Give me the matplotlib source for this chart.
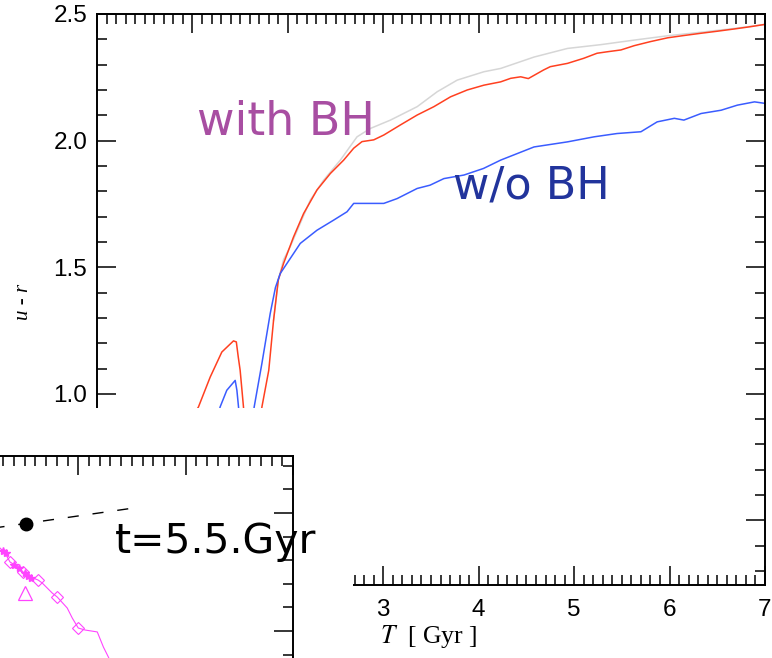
import matplotlib
matplotlib.use("Agg")
import matplotlib.pyplot as plt
from matplotlib.ticker import MultipleLocator, FormatStrFormatter
from matplotlib.patches import Rectangle

plt.rcParams['mathtext.fontset'] = 'stix'

# ---------------- data (main panel: u-r colour vs time) ----------------
T_red = [0.90, 1.063, 1.186, 1.308, 1.43, 1.46, 1.48, 1.50, 1.535, 1.58, 1.66,
         1.728, 1.80, 1.85, 1.90, 1.955, 2.06, 2.165, 2.305, 2.445, 2.585, 2.69,
         2.777, 2.90, 3.005, 3.18, 3.355, 3.53, 3.705, 3.88, 4.055, 4.23, 4.335,
         4.44, 4.52, 4.68, 4.75, 4.93, 5.10, 5.24, 5.35, 5.49, 5.63, 5.80, 5.98,
         6.15, 6.33, 6.50, 6.68, 6.85, 7.0]
ur_red = [0.85, 0.948, 1.066, 1.165, 1.209, 1.205, 1.146, 1.093, 0.948, 0.70, 0.70,
          0.948, 1.093, 1.29, 1.45, 1.515, 1.620, 1.712, 1.805, 1.870, 1.923, 1.970,
          1.996, 2.003, 2.022, 2.062, 2.101, 2.134, 2.173, 2.20, 2.219, 2.232, 2.246,
          2.252, 2.245, 2.279, 2.292, 2.305, 2.325, 2.345, 2.351, 2.358, 2.375, 2.391, 2.406,
          2.415, 2.424, 2.432, 2.441, 2.450, 2.459]

T_gray = [1.85, 1.90, 1.955, 2.025, 2.235, 2.375, 2.55, 2.725, 2.865, 3.075, 3.355,
          3.565, 3.775, 4.055, 4.23, 4.58, 4.93, 5.28, 5.63, 5.98, 6.33, 6.68, 7.0]
ur_gray = [1.29, 1.45, 1.53, 1.581, 1.765, 1.844, 1.923, 2.015, 2.048, 2.081, 2.134,
           2.193, 2.239, 2.272, 2.285, 2.33, 2.364, 2.379, 2.397, 2.414, 2.428, 2.443, 2.459]

T_blue = [1.20, 1.29, 1.36, 1.448, 1.466, 1.483, 1.52, 1.60, 1.647, 1.728, 1.815,
          1.87, 1.92, 2.13, 2.305, 2.48, 2.62, 2.69, 2.83, 3.005, 3.145, 3.355,
          3.49, 3.635, 3.845, 4.05, 4.23, 4.58, 4.93, 5.21, 5.45, 5.70, 5.87, 6.05,
          6.15, 6.33, 6.54, 6.71, 6.89, 7.0]
ur_blue = [0.80, 0.948, 1.014, 1.053, 1.014, 0.948, 0.80, 0.80, 0.948, 1.12, 1.317,
           1.42, 1.475, 1.594, 1.646, 1.686, 1.719, 1.752, 1.752, 1.752, 1.771, 1.811,
           1.824, 1.85, 1.864, 1.89, 1.923, 1.975, 1.995, 2.015, 2.028, 2.035, 2.074, 2.088,
           2.081, 2.107, 2.12, 2.14, 2.153, 2.147]

x_ticklabels = ['0', '1', '2', '3', '4', '5', '6', '7']

# ---------------- data (inset fragment) ----------------
dash_x = [0.10, 1.52]
dash_y = [1.858, 2.043]
dot_x = [0.514]
dot_y = [1.907]
mag_x = [0.271, 0.318, 0.364, 0.439, 0.486, 0.523, 0.579, 0.626, 0.664, 0.757,
         0.804, 0.897, 0.944, 1.0, 1.065, 1.177, 1.234, 1.28, 1.32]
mag_y = [1.703, 1.661, 1.585, 1.542, 1.50, 1.466, 1.449, 1.432, 1.407, 1.322,
         1.288, 1.195, 1.11, 1.025, 1.008, 0.992, 0.864, 0.78, 0.70]
diam_x = [0.364, 0.486, 0.626, 0.804, 1.0]
diam_y = [1.585, 1.50, 1.432, 1.288, 1.025]
star_x = [0.30, 0.33, 0.40, 0.45, 0.50, 0.53, 0.56]
star_y = [1.68, 1.66, 1.56, 1.53, 1.49, 1.47, 1.45]
tri_x = [0.505]
tri_y = [1.322]

W, H = 772, 658
fig = plt.figure(figsize=(W / 100, H / 100), dpi=100)

ax = fig.add_axes([97 / W, 73 / H, 668 / W, 571 / H])
ax.plot(T_gray, ur_gray, color='#d6d6d6', lw=1.1)
ax.plot(T_red, ur_red, color='#ff4020', lw=1.1)
ax.plot(T_blue, ur_blue, color='#3a5cff', lw=1.1)
ax.set_xlim(0, 7)
ax.set_ylim(0.245, 2.5)
ax.xaxis.set_major_locator(MultipleLocator(1))
ax.xaxis.set_minor_locator(MultipleLocator(0.1))
ax.yaxis.set_major_locator(MultipleLocator(0.5))
ax.yaxis.set_minor_locator(MultipleLocator(0.1))
ax.yaxis.set_major_formatter(FormatStrFormatter('%.1f'))
ax.set_xticks(range(len(x_ticklabels)))
ax.set_xticklabels(x_ticklabels)
ax.tick_params(which='both', direction='in', top=True, right=True, width=1.1)
ax.tick_params(which='major', length=14)
ax.tick_params(which='minor', length=7)
ax.tick_params(axis='y', pad=7)
ax.tick_params(axis='x', pad=10)
for lab in ax.get_xticklabels() + ax.get_yticklabels():
    lab.set_fontfamily('Liberation Sans')
    lab.set_fontsize(17.5)
for s in ax.spines.values():
    s.set_linewidth(1.4)

fig.text(24 / W, 1 - 302 / H, 'u - r', rotation=90, family='Liberation Serif',
         style='italic', fontsize=15, ha='center', va='center')
fig.text(380 / W, 1 - 643 / H, r'$T$  [ Gyr ]', family='Liberation Serif',
         fontsize=18.5, ha='left', va='baseline')

fig.text(197 / W, 1 - 135 / H, 'with BH', color='#a84ea2', fontsize=33,
         family='DejaVu Sans', ha='left', va='baseline')
fig.text(453 / W, 1 - 199 / H, 'w/o BH', color='#22349c', fontsize=32,
         family='DejaVu Sans', ha='left', va='baseline')

# white cover over lower-left part of main panel
fig.add_artist(Rectangle((0, 0), 353 / W, 250 / H, transform=fig.transFigure,
                         facecolor='white', edgecolor='none', zorder=1))

# inset fragment
axin = fig.add_axes([0, 0, 293 / W, 202.3 / H], zorder=2)
axin.set_facecolor('white')
axin.plot(dash_x, dash_y, color='black', lw=1.0, linestyle=(4, (8, 10)))
axin.plot(dot_x, dot_y, 'o', color='black', markersize=9)
axin.plot(mag_x, mag_y, color='#ff44ff', lw=0.8)
axin.plot(diam_x, diam_y, 'D', mfc='none', mec='#ff44ff', markersize=6, mew=0.8)
axin.plot(star_x, star_y, '*', color='#ff44ff', markersize=6)
axin.plot(tri_x, tri_y, '^', mfc='none', mec='#ff44ff', markersize=10, mew=0.9)
axin.set_xlim(0.271, 3.0)
axin.set_ylim(0.771, 2.486)
axin.xaxis.set_major_locator(MultipleLocator(1))
axin.xaxis.set_minor_locator(MultipleLocator(0.1))
axin.yaxis.set_major_locator(MultipleLocator(1))
axin.yaxis.set_minor_locator(MultipleLocator(0.2))
axin.tick_params(which='both', direction='in', top=True, right=True, bottom=False,
                 left=False, labelbottom=False, labelleft=False, width=1.1)
axin.tick_params(which='major', length=14)
axin.tick_params(which='minor', length=7)
axin.spines['left'].set_visible(False)
axin.spines['bottom'].set_visible(False)
for s in ['top', 'right']:
    axin.spines[s].set_linewidth(1.4)

fig.text(115 / W, 1 - 553 / H, 't=5.5.Gyr', color='black', fontsize=29.5,
         family='DejaVu Sans', ha='left', va='baseline', zorder=5)

fig.savefig('out.png', dpi=100)
